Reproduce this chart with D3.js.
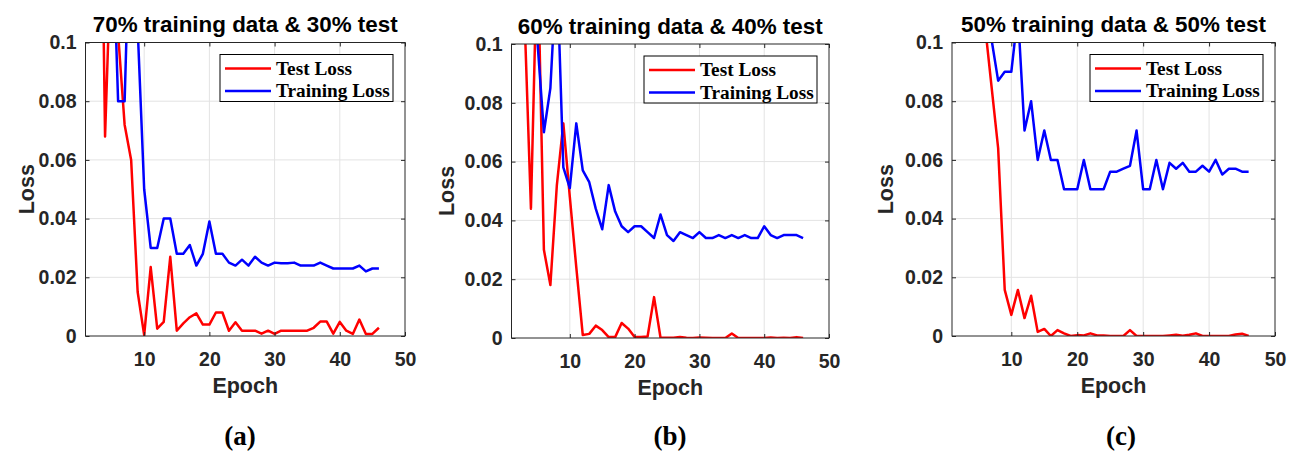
<!DOCTYPE html>
<html>
<head>
<meta charset="utf-8">
<script src="https://cdn.jsdelivr.net/npm/d3@7"></script>
<style>
  body { margin: 0; background: #fff; }
</style>
</head>
<body>
<svg id="chart" width="1290" height="452"></svg>
<script>
// ---- data (epochs 1..46) ----
const epochs = d3.range(1, 47);

const testLoss70 = [0.45, 0.35, 0.23, 0.068, 0.136, 0.103, 0.072, 0.060, 0.015, 0.0003,
  0.0235, 0.0025, 0.0048, 0.027, 0.0018, 0.0043, 0.0064, 0.0077, 0.0039, 0.0039,
  0.008, 0.008, 0.0018, 0.0047, 0.0018, 0.0018, 0.0018, 0.0008, 0.0018, 0.0007,
  0.0018, 0.0018, 0.0018, 0.0018, 0.0018, 0.0028, 0.0049, 0.0049, 0.0008, 0.0048,
  0.0018, 0.0007, 0.0056, 0.0007, 0.0007, 0.0028];
const trainLoss70 = [0.30, 0.25, 0.20, 0.17, 0.15, 0.08, 0.08, 0.158, 0.105, 0.05,
  0.03, 0.03, 0.04, 0.04, 0.028, 0.028, 0.031, 0.024, 0.028, 0.039,
  0.028, 0.028, 0.025, 0.024, 0.026, 0.024, 0.027, 0.025, 0.024, 0.025,
  0.0248, 0.0248, 0.025, 0.024, 0.024, 0.024, 0.025, 0.024, 0.023, 0.023,
  0.023, 0.023, 0.024, 0.022, 0.023, 0.023];

const testLoss60 = [0.30, 0.20, 0.11, 0.044, 0.135, 0.030, 0.018, 0.052, 0.073, 0.048,
  0.024, 0.001, 0.0014, 0.0042, 0.0027, 0.0003, 0.0003, 0.0051, 0.0032, 0.0003,
  0.0003, 0.0005, 0.0139, 0.0001, 0.0001, 0.0001, 0.0003, 0.0001, 0, 0.0002,
  0.0001, 0, 0, 0, 0.0015, 0, 0, 0, 0, 0,
  0.0002, 0, 0.0001, 0, 0.0003, 0];
const trainLoss60 = [0.30, 0.22, 0.16, 0.12, 0.101, 0.07, 0.085, 0.127, 0.058, 0.051,
  0.073, 0.057, 0.053, 0.044, 0.037, 0.052, 0.043, 0.038, 0.036, 0.038,
  0.038, 0.036, 0.034, 0.042, 0.035, 0.033, 0.036, 0.035, 0.034, 0.036,
  0.034, 0.034, 0.035, 0.034, 0.035, 0.034, 0.035, 0.034, 0.034, 0.038,
  0.035, 0.034, 0.035, 0.035, 0.035, 0.034];

const testLoss50 = [0.40, 0.30, 0.22, 0.17, 0.13, 0.106, 0.085, 0.064, 0.0157, 0.0072,
  0.0157, 0.0061, 0.0137, 0.0014, 0.0024, 0, 0.002, 0.0009, 0, 0.0003,
  0.0002, 0.0009, 0.0002, 0.0002, 0, 0, 0, 0.002, 0, 0,
  0, 0, 0, 0.0002, 0.0004, 0.0001, 0.0004, 0.0009, 0, 0,
  0, 0, 0, 0.0005, 0.0008, 0];
const trainLoss50 = [0.35, 0.28, 0.22, 0.17, 0.13, 0.115, 0.101, 0.087, 0.09, 0.09,
  0.11, 0.07, 0.08, 0.06, 0.07, 0.06, 0.06, 0.05, 0.05, 0.05,
  0.06, 0.05, 0.05, 0.05, 0.056, 0.056, 0.057, 0.058, 0.07, 0.05,
  0.05, 0.06, 0.05, 0.059, 0.057, 0.059, 0.056, 0.056, 0.058, 0.056,
  0.06, 0.055, 0.057, 0.057, 0.056, 0.056];

const panelTitles = ["70% training data & 30% test", "60% training data & 40% test", "50% training data & 50% test"];
const panelCaptions = ["(a)", "(b)", "(c)"];
const seriesNames = ["Test Loss", "Training Loss"];
const xTicks = [10, 20, 30, 40, 50];
const yTicks = [0, 0.02, 0.04, 0.06, 0.08, 0.1];
const yTickLabels = ["0", "0.02", "0.04", "0.06", "0.08", "0.1"];

const panelSeries = [
  [testLoss70, trainLoss70],
  [testLoss60, trainLoss60],
  [testLoss50, trainLoss50]
];

// ---- layout ----
const boxes = [
  { left: 85.5, right: 405, top: 42.5, bottom: 336, captionX: 240, yLabelX: 26 },
  { left: 511.5, right: 829, top: 44, bottom: 338, captionX: 670, yLabelX: 446 },
  { left: 952, right: 1275, top: 42.5, bottom: 336, captionX: 1121, yLabelX: 885 }
];
const colors = ["#ff0000", "#0000ff"];
const axisColor = "#262626";
const sans = "'Liberation Sans', Arial, sans-serif";
const serif = "'Liberation Serif', 'Times New Roman', serif";

const svg = d3.select("#chart");

boxes.forEach((b, i) => {
  const w = b.right - b.left, h = b.bottom - b.top;
  const x = d3.scaleLinear().domain([1, 50]).range([b.left, b.right]);
  const y = d3.scaleLinear().domain([0, 0.1]).range([b.bottom, b.top]);
  const g = svg.append("g");

  // grid
  g.selectAll(".gx").data(xTicks.slice(0, -1)).enter().append("line")
    .attr("x1", (d) => x(d)).attr("x2", (d) => x(d))
    .attr("y1", b.top).attr("y2", b.bottom)
    .attr("stroke", "#e3e3e3").attr("stroke-width", 1);
  g.selectAll(".gy").data(yTicks.slice(1, -1)).enter().append("line")
    .attr("x1", b.left).attr("x2", b.right)
    .attr("y1", (d) => y(d)).attr("y2", (d) => y(d))
    .attr("stroke", "#e3e3e3").attr("stroke-width", 1);

  // clip for the lines
  const clipId = "clip" + i;
  svg.append("clipPath").attr("id", clipId)
    .append("rect").attr("x", b.left).attr("y", b.top).attr("width", w).attr("height", h);

  // series
  const line = d3.line().x((d, k) => x(epochs[k])).y((d) => y(d));
  panelSeries[i].forEach((vals, s) => {
    g.append("path")
      .datum(vals)
      .attr("clip-path", `url(#${clipId})`)
      .attr("fill", "none")
      .attr("stroke", colors[s])
      .attr("stroke-width", 2.5)
      .attr("stroke-linejoin", "round")
      .attr("d", line);
  });

  // axes: ticks point inward, on all four sides
  const xAxis = g.append("g").attr("transform", `translate(0,${b.bottom})`)
    .call(d3.axisBottom(x).tickValues(xTicks).tickSizeInner(-4).tickSizeOuter(0).tickPadding(16));
  const yAxis = g.append("g").attr("transform", `translate(${b.left},0)`)
    .call(d3.axisLeft(y).tickValues(yTicks).tickFormat((d, k) => yTickLabels[k])
      .tickSizeInner(-4).tickSizeOuter(0).tickPadding(9));
  g.append("g").attr("transform", `translate(0,${b.top})`)
    .call(d3.axisTop(x).tickValues(xTicks).tickSizeInner(-4).tickSizeOuter(0).tickFormat(""));
  g.append("g").attr("transform", `translate(${b.right},0)`)
    .call(d3.axisRight(y).tickValues(yTicks).tickSizeInner(-4).tickSizeOuter(0).tickFormat(""));

  g.selectAll(".domain").remove();
  g.selectAll(".tick line").attr("stroke", axisColor);
  [xAxis, yAxis].forEach((a) => a.selectAll("text")
    .attr("fill", axisColor)
    .style("font-family", sans)
    .style("font-size", "19.5px")
    .style("font-weight", "bold"));

  g.append("rect")
    .attr("x", b.left).attr("y", b.top).attr("width", w).attr("height", h)
    .attr("fill", "none").attr("stroke", axisColor).attr("stroke-width", 1);

  // title and axis labels
  g.append("text")
    .attr("x", (b.left + b.right) / 2).attr("y", b.top - 10.5)
    .attr("text-anchor", "middle")
    .style("font-family", sans).style("font-size", "22.4px").style("font-weight", "bold")
    .attr("fill", "#000")
    .text(panelTitles[i]);
  g.append("text")
    .attr("x", (b.left + b.right) / 2).attr("y", b.bottom + 57)
    .attr("text-anchor", "middle")
    .style("font-family", sans).style("font-size", "21.5px").style("font-weight", "bold")
    .attr("fill", axisColor)
    .text("Epoch");
  g.append("text")
    .attr("transform", `translate(${b.yLabelX},${(b.top + b.bottom) / 2}) rotate(-90)`)
    .attr("text-anchor", "middle").attr("dy", "0.35em")
    .style("font-family", sans).style("font-size", "21.5px").style("font-weight", "bold")
    .attr("fill", axisColor)
    .text("Loss");

  // legend
  const lw = 173, lh = 47;
  const lx = b.right - 12 - lw, ly = b.top + 12;
  const leg = g.append("g").attr("transform", `translate(${lx},${ly})`);
  leg.append("rect").attr("width", lw).attr("height", lh)
    .attr("fill", "#fff").attr("stroke", "#000").attr("stroke-width", 1);
  seriesNames.forEach((name, s) => {
    const cy = 14 + s * 22.5;
    leg.append("line").attr("x1", 5).attr("x2", 51).attr("y1", cy).attr("y2", cy)
      .attr("stroke", colors[s]).attr("stroke-width", 2.5);
    leg.append("text").attr("x", 56).attr("y", cy).attr("dy", "0.33em")
      .style("font-family", serif).style("font-size", "19.3px").style("font-weight", "bold")
      .attr("fill", "#000")
      .text(name);
  });

  // sub caption
  svg.append("text")
    .attr("x", b.captionX).attr("y", 445)
    .attr("text-anchor", "middle")
    .style("font-family", serif).style("font-size", "27px").style("font-weight", "bold")
    .attr("fill", "#000")
    .text(panelCaptions[i]);
});
</script>
</body>
</html>
